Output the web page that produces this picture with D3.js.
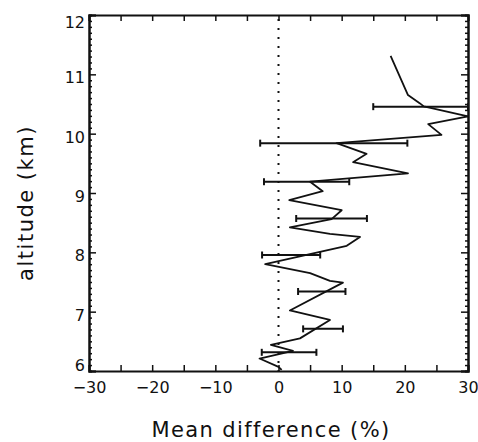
<!DOCTYPE html>
<html>
<head>
<meta charset="utf-8">
<script src="https://cdn.jsdelivr.net/npm/d3@7"></script>
<style>
  body { margin: 0; background: #fff; }
  svg text { font-family: "DejaVu Sans", sans-serif; fill: #111; }
</style>
</head>
<body>
<div id="chart"></div>
<script>
// profile of mean difference vs altitude
var altitude = [11.31, 10.65, 10.51, 10.46, 10.29, 10.16, 9.98, 9.84, 9.66, 9.52, 9.33, 9.19, 9.03, 8.88,
                8.71, 8.56, 8.42, 8.31, 8.26, 8.11, 7.80, 7.65, 7.52, 7.49, 7.02, 6.86, 6.55, 6.44,
                6.34, 6.21, 6.07, 6.02];
var meanDiff = [17.75, 20.5, 22.4, 23.0, 30.0, 23.7, 25.8, 9.2, 13.95, 11.8, 20.5, 5.0, 7.0, 1.7,
                10.0, 8.4, 1.8, 8.15, 12.9, 10.8, -2.1, 5.0, 8.15, 10.2, 1.8, 8.15, 3.4, -1.2,
                2.3, -3.0, 0.0, 0.5];

// error bars
var errAlt = [10.455, 9.84, 9.19, 8.57, 7.955, 7.34, 6.71, 6.315];
var errLo  = [15.0, -2.9, -2.3, 2.8, -2.6, 3.1, 3.9, -2.65];
var errHi  = [30.0, 20.4, 11.2, 14.0, 6.6, 10.6, 10.2, 6.0];

var xTicks = [-30, -20, -10, 0, 10, 20, 30];
var yTicks = [6, 7, 8, 9, 10, 11, 12];

var W = 478, H = 442;
var margin = {top: 15, right: 10, bottom: 71, left: 89};
var width = 468 - margin.left,
    height = 371 - margin.top;

var svg = d3.select("#chart").append("svg")
    .attr("width", W)
    .attr("height", H);

var g = svg.append("g")
    .attr("transform", "translate(" + margin.left + "," + margin.top + ")");

var x = d3.scaleLinear().domain([-30, 30]).range([0, width]);
var y = d3.scaleLinear().domain([6, 12]).range([height, 0]);

// x ticks every 5, labels every 10
var xAll = d3.range(-30, 31, 5);
var fmt = function(d) { return xTicks.indexOf(d) >= 0 ? d3.format("d")(d) : ""; };

g.append("g")
    .attr("class", "xb")
    .attr("transform", "translate(0," + height + ")")
    .call(d3.axisBottom(x).tickValues(xAll).tickSize(-6).tickPadding(10.5).tickFormat(fmt));
g.append("g")
    .attr("class", "xt")
    .call(d3.axisTop(x).tickValues(xAll).tickSize(-6).tickFormat(""));

// y ticks: minor every 0.1 km, major every 1
var yMinor = d3.range(60, 121, 1).map(function(d) { return d / 10; })
    .filter(function(d) { return yTicks.indexOf(d) < 0; });

g.append("g")
    .attr("class", "ym")
    .call(d3.axisLeft(y).tickValues(yMinor).tickSize(-3).tickFormat(""));
g.append("g")
    .attr("class", "yl")
    .call(d3.axisLeft(y).tickValues(yTicks).tickSize(-7).tickPadding(4).tickFormat(d3.format("d")));
g.append("g")
    .attr("class", "yr")
    .attr("transform", "translate(" + width + ",0)")
    .call(d3.axisRight(y).tickValues(yMinor).tickSize(-3).tickFormat(""));
g.append("g")
    .attr("class", "yr")
    .attr("transform", "translate(" + width + ",0)")
    .call(d3.axisRight(y).tickValues(yTicks).tickSize(-7).tickFormat(""));

g.selectAll(".domain").attr("stroke", "#111").attr("stroke-width", 2);
g.selectAll(".tick line").attr("stroke", "#111").attr("stroke-width", 1.5);
g.selectAll(".tick text").attr("font-size", 16).attr("fill", "#111")
    .attr("font-family", "DejaVu Sans, sans-serif");

// end labels sit inside the frame like the original
g.selectAll(".yl .tick text")
    .attr("dy", function(d) { return d === 12 ? "0.81em" : (d === 6 ? "-0.06em" : "0.53em"); });

// dotted zero line
g.append("line")
    .attr("x1", x(0)).attr("x2", x(0))
    .attr("y1", y(12) + 4).attr("y2", y(6))
    .attr("stroke", "#111")
    .attr("stroke-width", 2)
    .attr("stroke-dasharray", "2,7");

// error bars
var errs = errAlt.map(function(a, i) { return {a: a, lo: errLo[i], hi: errHi[i]}; });
var eb = g.append("g").attr("stroke", "#111").attr("stroke-width", 2);
eb.selectAll("line.bar").data(errs).enter().append("line")
    .attr("x1", function(d) { return x(d.lo); })
    .attr("x2", function(d) { return x(d.hi); })
    .attr("y1", function(d) { return y(d.a); })
    .attr("y2", function(d) { return y(d.a); });
eb.selectAll("line.cl").data(errs).enter().append("line")
    .attr("x1", function(d) { return x(d.lo); })
    .attr("x2", function(d) { return x(d.lo); })
    .attr("y1", function(d) { return y(d.a) - 3.5; })
    .attr("y2", function(d) { return y(d.a) + 3.5; });
eb.selectAll("line.cr").data(errs).enter().append("line")
    .attr("x1", function(d) { return x(d.hi); })
    .attr("x2", function(d) { return x(d.hi); })
    .attr("y1", function(d) { return y(d.a) - 3.5; })
    .attr("y2", function(d) { return y(d.a) + 3.5; });

// profile line
var pts = altitude.map(function(a, i) { return [meanDiff[i], a]; });
g.append("path")
    .datum(pts)
    .attr("fill", "none")
    .attr("stroke", "#111")
    .attr("stroke-width", 1.8)
    .attr("stroke-linejoin", "round")
    .attr("d", d3.line().x(function(d) { return x(d[0]); }).y(function(d) { return y(d[1]); }));

// axis titles
svg.append("text")
    .attr("x", 271)
    .attr("y", 437)
    .attr("text-anchor", "middle")
    .attr("font-size", 21)
    .attr("letter-spacing", 1.4)
    .text("Mean difference (%)");

svg.append("text")
    .attr("transform", "translate(33,203) rotate(-90)")
    .attr("text-anchor", "middle")
    .attr("font-size", 21)
    .attr("letter-spacing", 1.5)
    .text("altitude (km)");
</script>
</body>
</html>
